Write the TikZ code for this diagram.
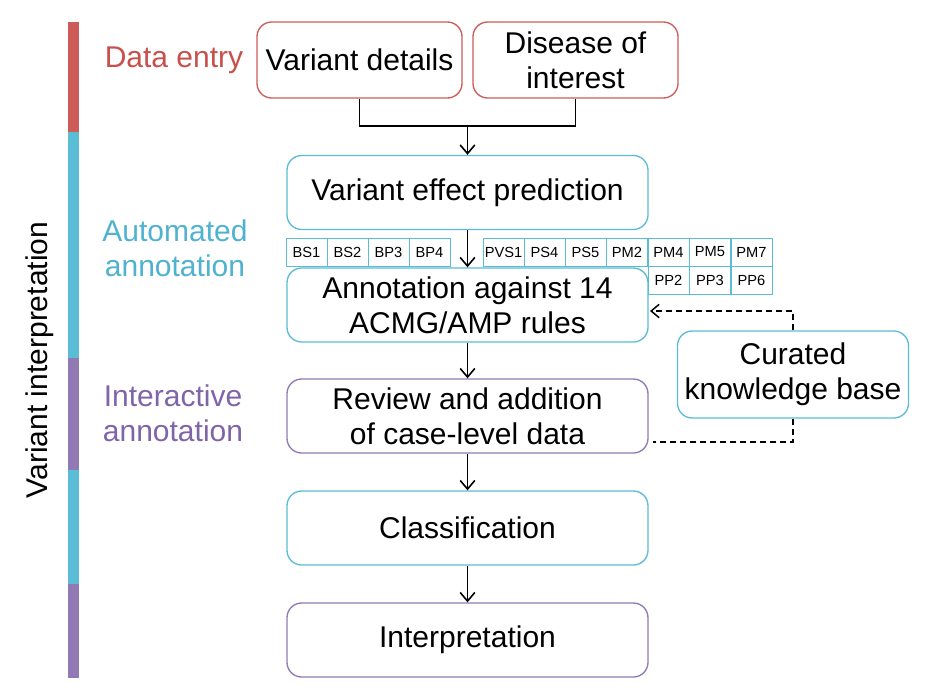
\documentclass[tikz,border=0pt]{standalone}
\usepackage{fontspec}
\setmainfont{Liberation Sans}
\usetikzlibrary{arrows.meta,positioning}
\definecolor{cred}{RGB}{205,92,88}
\definecolor{ccyan}{RGB}{91,188,214}
\definecolor{cpurp}{RGB}{145,122,180}
\definecolor{tred}{RGB}{200,80,76}
\definecolor{tcyan}{RGB}{78,178,208}
\definecolor{tpurp}{RGB}{128,100,168}
\tikzset{
  big/.style={font=\fontsize{22.5}{26}\selectfont, align=center},
  mainbox/.style={big, draw, line width=1pt, rounded corners=11pt, minimum width=270.75pt, minimum height=55.5pt, inner sep=0pt},
  entrybox/.style={big, draw=cred, line width=1pt, rounded corners=11pt, minimum width=153.75pt, minimum height=57pt, inner sep=0pt},
  rulebox/.style={draw=ccyan, line width=0.7pt, minimum width=30.75pt, minimum height=21pt, inner sep=0pt, font=\fontsize{11}{12}\selectfont},
  conn/.style={line width=1.2pt, -{Straight Barb[length=6.5pt,width=11pt,line width=1.2pt]}},
  dconn/.style={line width=1.1pt, dashed, dash pattern=on 4.5pt off 3pt, -{Straight Barb[length=6pt,width=10pt,line width=1.1pt]}},
  sidelbl/.style={big}
}
\begin{document}
\begin{tikzpicture}[x=0.75pt,y=-0.75pt]
\useasboundingbox (0,0) rectangle (937,694);
% left bar
\fill[cred] (68,22) rectangle (79,132);
\fill[ccyan] (68,132) rectangle (79,358);
\fill[cpurp] (68,358) rectangle (79,470);
\fill[ccyan] (68,470) rectangle (79,584);
\fill[cpurp] (68,584) rectangle (79,678);
\node[big, rotate=90] (vi) at (40,360) {Variant interpretation};
% side labels
\node[sidelbl, text=tred] (de) at (174,60) {Data entry};
\node[sidelbl, text=tcyan] (aa) at (175,248) {Automated\\annotation};
\node[sidelbl, text=tpurp] (ia) at (173,413) {Interactive\\annotation};
% entry boxes
\node[entrybox] (vd) at (359.5,60) {Variant details};
\node[entrybox] (dis) at (575.5,60) {Disease of\\interest};
% main boxes
\node[mainbox, draw=ccyan] (vep) at (467.5,192.5) {Variant effect prediction};
\node[mainbox, draw=ccyan] (ann) at (467.5,305) {Annotation against 14\\ACMG/AMP rules};
\node[mainbox, draw=cpurp] (rev) at (467.5,416) {Review and addition\\of case-level data};
\node[mainbox, draw=ccyan] (cls) at (467.5,528) {Classification};
\node[mainbox, draw=cpurp] (int) at (467.5,640) {Interpretation};
\node[big, draw=ccyan, line width=1pt, rounded corners=11pt, minimum width=173.25pt, minimum height=65.25pt, inner sep=0pt] (kb) at (793,374.5) {Curated\\knowledge base};
% rule boxes
\node[rulebox] (bs1) at (306.5,252) {BS1};
\node[rulebox] (bs2) at (347.5,252) {BS2};
\node[rulebox] (bp3) at (388.5,252) {BP3};
\node[rulebox] (bp4) at (429.5,252) {BP4};
\node[rulebox] (pvs1) at (503.5,252) {PVS1};
\node[rulebox] (ps4) at (544.5,252) {PS4};
\node[rulebox] (ps5) at (585.5,252) {PS5};
\node[rulebox] (pm2) at (627,252) {PM2};
\node[rulebox] (pm4) at (668.5,252) {PM4};
\node[rulebox] (pm5) at (710,252) {PM5};
\node[rulebox] (pm7) at (751.5,252) {PM7};
\node[rulebox] (pp2) at (668.5,280.5) {PP2};
\node[rulebox] (pp3) at (710,280.5) {PP3};
\node[rulebox] (pp6) at (751.5,280.5) {PP6};
% connectors
\coordinate (j) at (467.5,126);
\draw[line width=1.2pt] (vd.south) |- (j) -| (dis.south);
\draw[conn] (j) -- (vep.north);
\draw[conn] (vep.south) -- (ann.north);
\draw[conn] (ann.south) -- (rev.north);
\draw[conn] (rev.south) -- (cls.north);
\draw[conn] (cls.south) -- (int.north);
\draw[dconn] (kb.north) |- ([xshift=1pt,yshift=-4.5pt]ann.east);
\draw[line width=1.1pt, dashed, dash pattern=on 4.5pt off 3pt] (kb.south) |- ([xshift=3pt,yshift=-19.5pt]rev.east);
\end{tikzpicture}
\end{document}
